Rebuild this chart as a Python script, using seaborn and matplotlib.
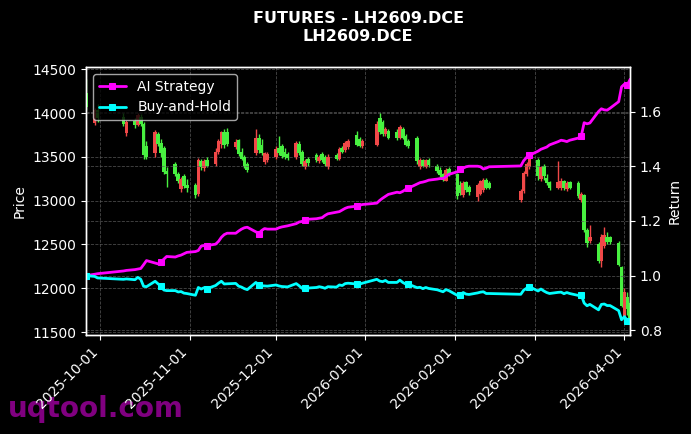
import numpy as np
import pandas as pd
import matplotlib
matplotlib.use("Agg")
import matplotlib.pyplot as plt
import matplotlib.dates as mdates
import seaborn as sns

# ---------------- data ----------------
holidays = ["2025-10-01", "2025-10-02", "2025-10-03", "2025-10-06", "2025-10-07", "2025-10-08",
            "2026-01-01", "2026-01-02",
            "2026-02-16", "2026-02-17", "2026-02-18", "2026-02-19", "2026-02-20", "2026-02-23"]
start_date = "2025-09-26"
end_date = "2026-04-03"

open_px = [14230, 13890, 14030, 13960, 13770, 13910, 13870, 13960, 13880, 13620,
           13540, 13760, 13660, 13600, 13340, 13420, 13310, 13130, 13280, 13180,
           13180, 13080, 13450, 13370, 13470, 13420, 13560, 13650, 13790, 13780,
           13610, 13690, 13560, 13500, 13420, 13550, 13720, 13640, 13440, 13470,
           13500, 13600, 13620, 13560, 13530, 13500, 13650, 13560, 13380, 13480,
           13520, 13450, 13530, 13500, 13380, 13520, 13480, 13600, 13580, 13610,
           13750, 13700, 13620, 13640, 13950, 13900, 13760, 13800, 13790, 13720,
           13820, 13740, 13680, 13720, 13380, 13460, 13390, 13470, 13400, 13350,
           13300, 13230, 13360, 13300, 13180, 13060, 13210, 13160, 13040, 13080,
           13120, 13240, 13200, 13010, 13110, 13300, 13380, 13460, 13250, 13400,
           13260, 13210, 13150, 13140, 13220, 13130, 13210, 13200, 13010, 13060,
           12660, 12540, 12510, 12310, 12480, 12590, 12580, 12520, 12240, 11680,
           11900, 11830]
high_px = [14387, 14060, 14100, 14000, 13920, 13950, 14000, 13990, 13900, 13680,
           13810, 13790, 13700, 13620, 13380, 13440, 13330, 13270, 13300, 13250,
           13200, 13490, 13480, 13480, 13500, 13600, 13700, 13800, 13820, 13830,
           13700, 13700, 13600, 13520, 13440, 13820, 13760, 13700, 13560, 13560,
           13620, 13740, 13650, 13600, 13560, 13680, 13680, 13580, 13480, 13500,
           13540, 13520, 13560, 13520, 13530, 13540, 13610, 13620, 13680, 13700,
           13800, 13730, 13700, 13910, 14000, 13920, 13840, 13820, 13820, 13860,
           13840, 13760, 13700, 13740, 13490, 13480, 13480, 13490, 13420, 13380,
           13320, 13370, 13380, 13320, 13220, 13230, 13230, 13180, 13200, 13240,
           13260, 13260, 13220, 13130, 13340, 13440, 13530, 13490, 13400, 13420,
           13300, 13230, 13450, 13260, 13240, 13220, 13230, 13220, 13100, 13080,
           12690, 12720, 12530, 12620, 12700, 12640, 12600, 12540, 12260, 12000,
           11960, 11860]
low_px = [14040, 13860, 13900, 13850, 13740, 13830, 13850, 13850, 13480, 13480,
          13500, 13620, 13500, 13300, 13160, 13280, 13200, 13100, 13150, 13100,
          13030, 13050, 13350, 13340, 13380, 13400, 13530, 13600, 13600, 13620,
          13590, 13510, 13460, 13370, 13330, 13520, 13540, 13520, 13420, 13440,
          13480, 13520, 13490, 13480, 13460, 13480, 13520, 13400, 13360, 13400,
          13440, 13430, 13440, 13400, 13360, 13460, 13460, 13540, 13560, 13590,
          13620, 13610, 13600, 13620, 13760, 13740, 13740, 13700, 13690, 13700,
          13700, 13620, 13600, 13420, 13360, 13380, 13370, 13390, 13320, 13270,
          13220, 13220, 13280, 13020, 13060, 13040, 13100, 13070, 13000, 13060,
          13100, 13130, 13130, 12990, 13090, 13280, 13360, 13240, 13230, 13240,
          13180, 13120, 13130, 13120, 13120, 13110, 13130, 13030, 12990, 12640,
          12470, 12520, 12290, 12245, 12460, 12510, 12510, 12250, 11790, 11620,
          11700, 11605]
close_px = [14070, 14030, 13950, 13880, 13900, 13860, 13980, 13880, 13520, 13500,
            13780, 13650, 13540, 13330, 13300, 13300, 13230, 13250, 13170, 13150,
            13060, 13460, 13380, 13450, 13400, 13560, 13680, 13780, 13640, 13650,
            13670, 13530, 13480, 13400, 13350, 13720, 13580, 13550, 13540, 13530,
            13590, 13540, 13510, 13500, 13490, 13660, 13550, 13420, 13450, 13430,
            13460, 13500, 13470, 13420, 13500, 13480, 13590, 13560, 13660, 13680,
            13640, 13630, 13680, 13880, 13790, 13760, 13820, 13720, 13720, 13840,
            13720, 13640, 13630, 13450, 13470, 13400, 13460, 13410, 13340, 13290,
            13240, 13350, 13300, 13050, 13090, 13200, 13120, 13100, 13180, 13220,
            13240, 13150, 13150, 13110, 13320, 13420, 13500, 13280, 13380, 13280,
            13200, 13150, 13210, 13220, 13140, 13200, 13150, 13050, 13080, 12660,
            12520, 12590, 12310, 12590, 12610, 12530, 12530, 12270, 11800, 11960,
            11760, 11640]
ai_strategy = [1.000, 1.005, 1.007, 1.017, 1.019, 1.022, 1.024, 1.026, 1.040, 1.055,
               1.046, 1.043, 1.050, 1.060, 1.070, 1.068, 1.072, 1.075, 1.080, 1.085,
               1.088, 1.092, 1.108, 1.110, 1.110, 1.115, 1.125, 1.140, 1.150, 1.155,
               1.155, 1.163, 1.170, 1.175, 1.177, 1.160, 1.154, 1.165, 1.172, 1.170,
               1.170, 1.175, 1.178, 1.180, 1.182, 1.190, 1.196, 1.198, 1.204, 1.206,
               1.208, 1.210, 1.212, 1.220, 1.226, 1.232, 1.234, 1.240, 1.246, 1.250,
               1.254, 1.257, 1.260, 1.265, 1.275, 1.283, 1.290, 1.297, 1.305, 1.303,
               1.308, 1.315, 1.320, 1.335, 1.340, 1.342, 1.345, 1.349, 1.353, 1.355,
               1.355, 1.362, 1.370, 1.380, 1.389, 1.393, 1.398, 1.400, 1.400, 1.398,
               1.390, 1.393, 1.398, 1.401, 1.420, 1.432, 1.440, 1.455, 1.462, 1.466,
               1.470, 1.478, 1.490, 1.495, 1.493, 1.490, 1.495, 1.503, 1.510, 1.559,
               1.555, 1.558, 1.600, 1.610, 1.606, 1.605, 1.612, 1.636, 1.690, 1.700,
               1.697, 1.718]

RED = "#f04848"
GREEN = "#48f040"
MAGENTA = "#ff00ff"
CYAN = "#00ffff"

# ---------------- frame ----------------
dates = pd.bdate_range(start_date, end_date)
dates = dates[~dates.isin(pd.to_datetime(holidays))]
o = np.array(open_px, float)
h = np.array(high_px, float)
l = np.array(low_px, float)
c = np.array(close_px, float)
buy_hold = c / c[0]

df = pd.DataFrame({"date": dates, "AI Strategy": ai_strategy, "Buy-and-Hold": buy_hold})

sns.set_theme(style="dark")
plt.rcParams.update({
    "figure.facecolor": "black", "axes.facecolor": "black", "savefig.facecolor": "black",
    "axes.edgecolor": "white", "axes.labelcolor": "white", "text.color": "white",
    "xtick.color": "white", "ytick.color": "white",
    "xtick.bottom": True, "ytick.left": True, "ytick.right": True,
    "axes.linewidth": 1.0,
})
plt.rcParams["font.family"] = ["DejaVu Sans"]

fig = plt.figure(figsize=(6.91, 4.34), dpi=100)
ax = fig.add_axes([0.1245, 0.228, 0.7875, 0.6175])

up = c >= o
cols = np.where(up, RED, GREEN)
ax.vlines(dates, l, h, colors=cols, linewidth=1.0, zorder=2)
body = np.maximum(np.abs(c - o), 8)
ax.bar(dates, body, bottom=np.minimum(o, c), width=1.25, color=cols, linewidth=0, zorder=3)

ax.set_ylabel("Price", fontsize=10, color="white")
ax.grid(True, linestyle="--", linewidth=0.6, color="#5a5a5a", alpha=0.8)
ax.tick_params(axis="both", colors="white", labelsize=10, length=3.5, width=0.8)

ax2 = ax.twinx()
sns.lineplot(data=df, x="date", y="AI Strategy", ax=ax2, color=MAGENTA, linewidth=2,
             marker="s", markersize=4, markevery=12, markeredgecolor=MAGENTA,
             label="AI Strategy")
sns.lineplot(data=df, x="date", y="Buy-and-Hold", ax=ax2, color=CYAN, linewidth=2,
             marker="s", markersize=4, markevery=12, markeredgecolor=CYAN,
             label="Buy-and-Hold")
ax2.set_ylabel("Return", fontsize=10, color="white")
ax2.set_xlabel("")
ax2.grid(True, linestyle="--", linewidth=0.6, color="#5a5a5a", alpha=0.8)
ax2.tick_params(axis="y", colors="white", labelsize=10, length=3.5, width=0.8)
for sp in ax2.spines.values():
    sp.set_color("white")

ax.set_xlim(dates[0], dates[-1])
ax.xaxis.set_major_locator(mdates.MonthLocator())
ax.xaxis.set_major_formatter(mdates.DateFormatter("%Y-%m-%d"))
ax.set_xlabel("")
for t in ax.get_xticklabels():
    t.set_rotation(45)
    t.set_ha("right")

leg = ax2.legend(loc="upper left", facecolor="black", edgecolor="#cccccc",
                 fontsize=10, framealpha=0.8)
for t in leg.get_texts():
    t.set_color("white")

ax2.set_title("FUTURES - LH2609.DCE\nLH2609.DCE", fontsize=11.5, fontweight="bold",
              color="white", pad=19)
fig.text(0.012, 0.04, "uqtool.com", fontsize=20, fontweight="bold", color="#800080",
         zorder=-1)

fig.savefig("out.png", dpi=100, facecolor="black")
